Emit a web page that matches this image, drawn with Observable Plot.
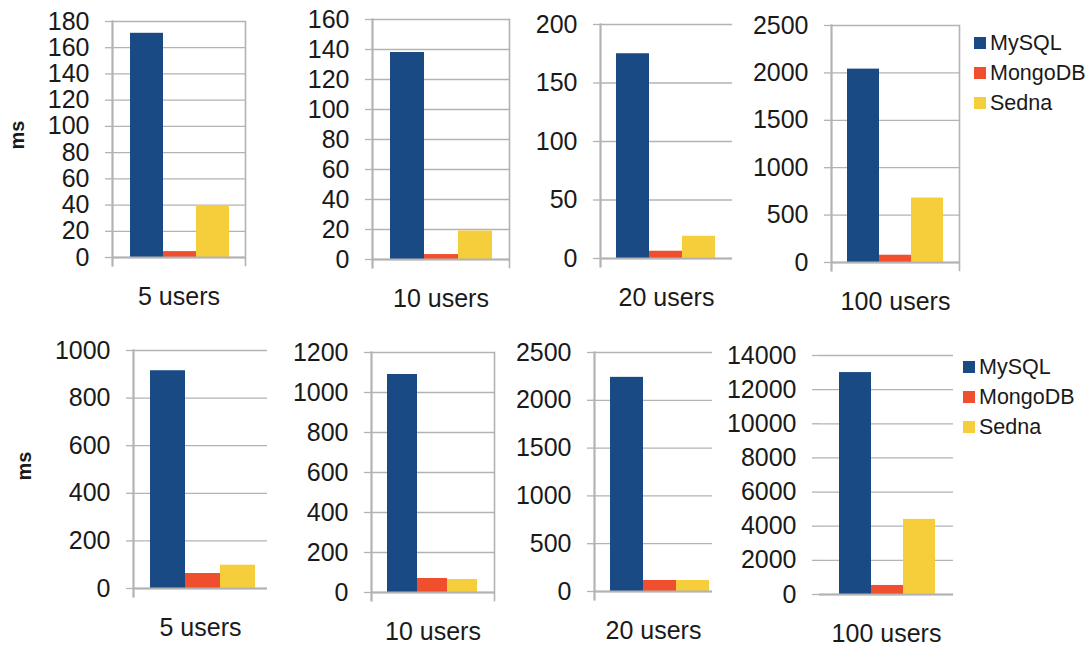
<!DOCTYPE html>
<html>
<head>
<meta charset="utf-8">
<script src="https://cdn.jsdelivr.net/npm/d3@7"></script>
<script src="https://cdn.jsdelivr.net/npm/@observablehq/plot@0.6"></script>
<style>
  html, body { margin: 0; padding: 0; background: #fff; }
  #chart { position: relative; width: 1089px; height: 646px; background: #fff; overflow: hidden;
           font-family: "Liberation Sans", Arial, sans-serif; color: #1a1a1a; }
  .legend { position: absolute; font-size: 21.5px; line-height: 30px; }
  .legend div { display: flex; align-items: center; height: 30px; }
  .legend span.sw { display: inline-block; width: 12px; height: 12px; margin-right: 4px; }
</style>
</head>
<body>
<div id="chart"></div>
<script>
// ---- data ----
const categories = ["5 users", "10 users", "20 users", "100 users"];
const series = ["MySQL", "MongoDB", "Sedna"];
const colors = ["#1a4a84", "#f04f2e", "#f6cd3b"];
const yLabel = "ms";

// top row
const mysqlTop = [171, 138, 175, 2040];
const mongoTop = [4.5, 3.3, 6.2, 77];
const sednaTop = [39.5, 19, 19, 680];
const yMaxTop = [180, 160, 200, 2500];
const yStepTop = [20, 20, 50, 500];

// bottom row
const mysqlBottom = [915, 1090, 2240, 13000];
const mongoBottom = [63, 70, 115, 530];
const sednaBottom = [98, 65, 115, 4400];
const yMaxBottom = [1000, 1200, 2500, 14000];
const yStepBottom = [200, 200, 500, 2000];

// ---- layout (page pixels) ----
const rows = [[0, 320], [320, 646]];
const layout = [
  {svg: [0, 255],   top: 21,  bottom: 257, frame: [112, 245], bars: [129, 230], left: true,  right: true},
  {svg: [255, 527], top: 19,  bottom: 259, frame: [372, 509], bars: [389, 492], left: true,  right: true},
  {svg: [527, 740], top: 24,  bottom: 258, frame: [600, 732], bars: [616, 715], left: true,  right: false},
  {svg: [740, 965], top: 25,  bottom: 262, frame: [831, 959], bars: [847, 943], left: true,  right: true},
  {svg: [0, 280],   top: 350, bottom: 588, frame: [133, 267], bars: [150, 255], left: true,  right: false},
  {svg: [280, 505], top: 352, bottom: 592, frame: [371, 494], bars: [386, 477], left: true,  right: true},
  {svg: [505, 725], top: 352, bottom: 591, frame: [594, 712], bars: [610, 709], left: true,  right: false},
  {svg: [725, 958], top: 355, bottom: 594, frame: [819, 953], bars: [838, 936], left: false, right: false}
];
const msPos = [[17, 149], [24, 480]];
const legendPos = [{x: 974, y: 28}, {x: 963, y: 352}];

const gray = "#b3b3b3";
const container = document.getElementById("chart");

const rowsData = [
  {vals: [mysqlTop, mongoTop, sednaTop], max: yMaxTop, step: yStepTop},
  {vals: [mysqlBottom, mongoBottom, sednaBottom], max: yMaxBottom, step: yStepBottom}
];

rowsData.forEach((rd, r) => {
  categories.forEach((cat, c) => {
    const L = layout[r * 4 + c];
    const [ry0, ry1] = rows[r];
    const sx = L.svg[0];
    const width = L.svg[1] - L.svg[0];
    const height = ry1 - ry0;
    const data = series.map((s, i) => ({series: s, value: rd.vals[i][c]}));
    const ticks = d3.range(0, rd.max[c] + rd.step[c] / 2, rd.step[c]);
    const marks = [
      Plot.gridY(ticks, {stroke: gray, strokeOpacity: 1, strokeWidth: 1.3}),
      Plot.axisY(ticks, {tickSize: 7, text: null, label: null, stroke: gray, strokeWidth: 1.3}),
      Plot.axisY(ticks, {tickSize: 0, tickPadding: 23, label: null, tickFormat: d => String(d), fill: "#1a1a1a"}),
      Plot.barY(data, {x: "series", y: "value", fill: "series"}),
      Plot.ruleY([0], {stroke: gray, strokeWidth: 2.2}),
      Plot.text([cat], {frameAnchor: "bottom", dy: 39, lineAnchor: "middle", text: d => d, fill: "#1a1a1a"})
    ];
    if (L.left) marks.push(Plot.frame({anchor: "left", insetBottom: -8, stroke: gray, strokeWidth: 2.2}));
    if (L.right) marks.push(Plot.frame({anchor: "right", insetBottom: -8, stroke: gray, strokeWidth: 1.6}));
    if (c === 0) {
      const [mx, my] = msPos[r];
      marks.push(Plot.text([yLabel], {
        frameAnchor: "left", dx: mx - L.frame[0], dy: my - (L.top + L.bottom) / 2,
        rotate: -90, text: d => d, fontWeight: "bold", fontSize: 20, fill: "#1a1a1a"
      }));
    }
    const chart = Plot.plot({
      width, height,
      marginLeft: L.frame[0] - sx,
      marginRight: L.svg[1] - L.frame[1],
      marginTop: L.top - ry0,
      marginBottom: ry1 - L.bottom,
      x: {domain: series, range: [L.bars[0] - sx, L.bars[1] - sx], padding: 0, axis: null},
      y: {domain: [0, rd.max[c]], label: null},
      color: {domain: series, range: colors},
      style: {fontSize: "25px", fontFamily: "'Liberation Sans', Arial, sans-serif",
              background: "transparent", overflow: "visible", color: "#1a1a1a"},
      marks
    });
    chart.style.position = "absolute";
    chart.style.left = sx + "px";
    chart.style.top = ry0 + "px";
    chart.style.maxWidth = "none";
    container.appendChild(chart);
  });

  // legend
  const lg = document.createElement("div");
  lg.className = "legend";
  lg.style.left = legendPos[r].x + "px";
  lg.style.top = legendPos[r].y + "px";
  series.forEach((s, i) => {
    const row = document.createElement("div");
    const sw = document.createElement("span");
    sw.className = "sw";
    sw.style.background = colors[i];
    row.appendChild(sw);
    row.appendChild(document.createTextNode(s));
    lg.appendChild(row);
  });
  container.appendChild(lg);
});
</script>
</body>
</html>
